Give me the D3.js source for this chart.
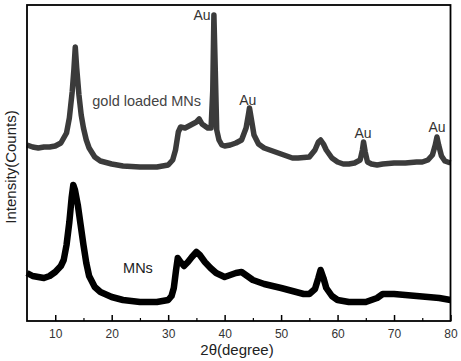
<!DOCTYPE html>
<html><head><meta charset="utf-8">
<script src="https://cdn.jsdelivr.net/npm/d3@7"></script>
<style>body{margin:0;background:#fff}svg{display:block}text{font-family:"Liberation Sans",Arial,sans-serif}</style>
</head><body><svg id="c" width="461" height="361"></svg>
<script>
// 2theta positions and intensities (arbitrary units)
const goldX = [5,6,7,8,9,10,11,12,12.5,13,13.3,13.55,13.8,14.2,14.6,15,15.5,16,17,18,20,22,25,28,30,30.8,31.3,31.8,32.2,33,34,35,35.5,36,37,37.6,37.9,38.1,38.3,38.6,39,39.5,40,41,42,43,43.8,44.2,44.4,44.7,45.2,46,47,48,50,52,53,55,56,56.6,57,57.5,58,59,60,61,62,63,64,64.4,64.6,64.9,65.3,66,67,68,70,72,74,75,76,76.8,77.3,77.6,77.9,78.4,79,80];
const goldY = [176,174,173,174,174,175,178,188,203,229,251,274,253,226,206,193,181,173,164,160,157,155,154,154,156,161,171,189,194,193,196,199,202,197,193,193,231,306,261,191,181,176,175,176,178,181,193,206,213,203,186,177,173,171,167,163,163,164,171,179,181,177,171,163,159,157,157,158,161,171,179,169,159,157,156,157,158,158,159,159,161,166,176,184,176,165,160,158];
const mnX = [5,6,7,8,9,10,11,11.5,12,12.5,12.9,13.2,13.5,14,14.5,15,15.5,16,17,18,20,22,25,28,30,30.6,31,31.4,31.7,32.2,32.8,33.5,34.2,35,35.6,36.5,37.5,38.5,40,41,42,43,44,45,47,50,52,54,55,56,56.6,57,57.5,58,59,60,62,64,65,66,67,68,70,72,74,76,78,80];
const mnY = [48,45,44,43,45,49,55,61,76,99,123,136,131,116,96,76,58,45,34,29,24,21,19,19,21,25,33,51,63,59,55,59,64,69,66,59,53,48,44,46,48,49,45,41,37,33,30,27,27,32,43,51,43,33,25,21,19,19,19,21,23,27,27,26,25,24,23,21];
const xTicks = [10,20,30,40,50,60,70,80];
const xMinor = [15,25,35,45,55,65,75];
const peakLabels = ["Au","Au","Au","Au"];
const peakX = [36.0,44.1,64.5,77.6];
const peakY = [301,216,183,189];
const seriesNames = ["gold loaded MNs","MNs"];
const nameX = [26.2,24.65];
const nameY = [215,48];

const svg = d3.select("#c");
const L=27, R=450.5, T=5, B=321;
const x = d3.scaleLinear().domain([5,80]).range([L,R]);
const y = d3.scaleLinear().domain([0,316]).range([B,T]);

const line = d3.line().x(d=>x(d[0])).y(d=>y(d[1]));
svg.append("path").datum(goldX.map((v,i)=>[v,goldY[i]]))
  .attr("d",line).attr("fill","none").attr("stroke","#3b3b3b").attr("stroke-width",5.5).attr("stroke-linejoin","round");
svg.append("path").datum(mnX.map((v,i)=>[v,mnY[i]]))
  .attr("d",line).attr("fill","none").attr("stroke","#000").attr("stroke-width",6.5).attr("stroke-linejoin","round");

// frame
svg.append("rect").attr("x",L).attr("y",T).attr("width",R-L).attr("height",B-T)
  .attr("fill","none").attr("stroke","#000").attr("stroke-width",1.8);

// axis
const ax = svg.append("g").attr("transform",`translate(0,${B})`)
  .call(d3.axisBottom(x).tickValues(xTicks).tickSizeInner(-6).tickSizeOuter(0).tickPadding(8));
ax.select(".domain").remove();
ax.selectAll("line").attr("stroke","#000").attr("stroke-width",1.5);
ax.selectAll("text").attr("font-size",12).attr("fill","#333");
const mx = svg.append("g").attr("transform",`translate(0,${B})`)
  .call(d3.axisBottom(x).tickValues(xMinor).tickSizeInner(-3).tickSizeOuter(0).tickFormat(""));
mx.select(".domain").remove();
mx.selectAll("line").attr("stroke","#000").attr("stroke-width",1.2);

svg.append("text").attr("x",237).attr("y",355).attr("text-anchor","middle")
  .attr("font-size",15).attr("fill","#222").text("2θ(degree)");
svg.append("text").attr("transform",`translate(16,167) rotate(-90)`).attr("text-anchor","middle")
  .attr("font-size",15).attr("fill","#222").text("Intensity(Counts)");

// peak labels
peakLabels.forEach((t,i)=>{
  svg.append("text").attr("x",x(peakX[i])).attr("y",y(peakY[i])).attr("text-anchor","middle")
    .attr("font-size",14).attr("fill","#333").text(t);
});
seriesNames.forEach((t,i)=>{
  svg.append("text").attr("x",x(nameX[i])).attr("y",y(nameY[i])).attr("text-anchor","middle")
    .attr("font-size",14.5).attr("fill",i===0?"#444":"#222").text(t);
});
</script></body></html>
